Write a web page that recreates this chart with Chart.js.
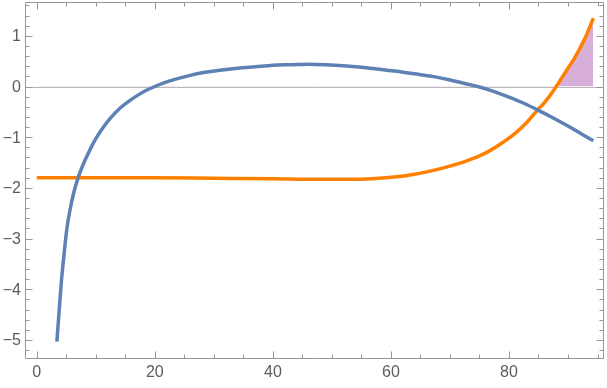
<!DOCTYPE html>
<html>
<head>
<meta charset="utf-8">
<script src="https://cdn.jsdelivr.net/npm/chart.js@4"></script>
<style>
  html, body { margin: 0; padding: 0; background: #fff; }
  #wrap { width: 607px; height: 388px; }
</style>
</head>
<body>
<div id="wrap"><canvas id="myPlot"></canvas></div>
<script>
// blue curve
var blueX = [3.4, 3.8, 4.2, 4.6, 5.1, 5.6, 6.2, 7, 8, 9, 10, 11.3, 12.5, 14, 15.5, 17, 18.5, 20, 22, 24, 26, 28, 31, 34, 37, 40, 43, 46, 49, 52, 55, 58, 61, 64, 67, 70, 72.5, 75, 77.5, 80, 82.5, 85, 87.5, 90, 92.5, 94.3];
var blueY = [-5.03, -4.4, -3.8, -3.33, -2.8, -2.45, -2.12, -1.8, -1.5, -1.25, -1.03, -0.8, -0.62, -0.44, -0.3, -0.18, -0.08, 0.0, 0.09, 0.16, 0.22, 0.27, 0.32, 0.36, 0.39, 0.42, 0.43, 0.44, 0.43, 0.41, 0.38, 0.34, 0.30, 0.25, 0.20, 0.13, 0.06, -0.01, -0.10, -0.21, -0.33, -0.47, -0.62, -0.78, -0.95, -1.07];

// orange curve
var orangeX = [0, 10, 20, 30, 40, 48, 54, 58, 61, 64, 67, 70, 72.5, 75, 77, 79, 81, 83, 85, 86, 87, 88, 89, 90, 91, 92, 93, 94.3];
var orangeY = [-1.80, -1.80, -1.80, -1.81, -1.82, -1.83, -1.83, -1.81, -1.78, -1.73, -1.66, -1.57, -1.48, -1.37, -1.25, -1.10, -0.93, -0.71, -0.44, -0.32, -0.17, 0.0, 0.18, 0.36, 0.54, 0.75, 0.98, 1.35];

var xTicks = [0, 20, 40, 60, 80];
var yTicks = [-5, -4, -3, -2, -1, 0, 1];

function pts(xs, ys) {
    return xs.map(function (x, i) { return {x: x, y: ys[i]}; });
}

function fmt(v) {
    return v < 0 ? '\u2212' + Math.abs(v) : String(v);
}

// frame, inward ticks, labels and zero axis like Mathematica
var framePlugin = {
    id: 'frame',
    beforeDatasetsDraw: function (chart) {
        var c = chart.ctx, a = chart.chartArea, ys = chart.scales.y;
        var y0 = Math.round(ys.getPixelForValue(0)) + 0.5;
        c.save();
        c.strokeStyle = '#b9b9b9';
        c.lineWidth = 1;
        c.beginPath();
        c.moveTo(a.left, y0);
        c.lineTo(a.right, y0);
        c.stroke();
        c.restore();
    },
    afterDatasetsDraw: function (chart) {
        var c = chart.ctx, a = chart.chartArea, xs = chart.scales.x, ys = chart.scales.y;
        var L = a.left + 0.5, R = a.right - 0.5, T = a.top + 0.5, B = a.bottom - 0.5;
        c.save();
        c.strokeStyle = '#959595';
        c.lineWidth = 1;
        c.beginPath();
        c.rect(L, T, R - L, B - T);
        c.stroke();
        c.beginPath();
        for (var v = 0; v <= 95; v += 5) {
            var px = Math.round(xs.getPixelForValue(v)) + 0.5;
            var len = (v % 20 === 0) ? 7 : 4;
            c.moveTo(px, B); c.lineTo(px, B - len);
            c.moveTo(px, T); c.lineTo(px, T + len);
        }
        for (var k = -26; k <= 8; k++) {
            var val = k * 0.2;
            var py = Math.round(ys.getPixelForValue(val)) + 0.5;
            var l2 = (k % 5 === 0) ? 7 : 4;
            c.moveTo(L, py); c.lineTo(L + l2, py);
            c.moveTo(R, py); c.lineTo(R - l2, py);
        }
        c.stroke();

        c.fillStyle = '#5c5c5c';
        c.font = '16px "Liberation Sans", Arial, sans-serif';
        c.textBaseline = 'middle';
        c.textAlign = 'center';
        xTicks.forEach(function (t) {
            c.fillText(fmt(t), xs.getPixelForValue(t), 373);
        });
        c.textAlign = 'right';
        yTicks.forEach(function (t) {
            c.fillText(fmt(t), 21, ys.getPixelForValue(t) + 1);
        });
        c.restore();
    }
};

var ctx = document.getElementById('myPlot');
var myChart = new Chart(ctx, {
    type: 'scatter',
    data: {
        datasets: [{
            label: 'orange',
            data: pts(orangeX, orangeY),
            showLine: true,
            borderColor: '#ff8000',
            borderWidth: 3.5,
            pointRadius: 0,
            cubicInterpolationMode: 'monotone',
            fill: {target: 'origin', above: '#d8afd8', below: 'rgba(0,0,0,0)'},
            order: 2
        }, {
            label: 'blue',
            data: pts(blueX, blueY),
            showLine: true,
            borderColor: '#5e81b5',
            borderWidth: 3.5,
            pointRadius: 0,
            cubicInterpolationMode: 'monotone',
            fill: false,
            order: 1
        }]
    },
    options: {
        responsive: true,
        maintainAspectRatio: false,
        animation: false,
        layout: {padding: {top: 2, right: 3, left: 0, bottom: 0}},
        plugins: {legend: {display: false}, tooltip: {enabled: false}},
        scales: {
            x: {
                type: 'linear',
                min: -2,
                max: 96.1,
                grid: {display: false},
                border: {display: false},
                ticks: {display: false},
                afterFit: function (s) { s.height = 29; s.paddingLeft = 0; s.paddingRight = 0; }
            },
            y: {
                type: 'linear',
                min: -5.375,
                max: 1.667,
                grid: {display: false},
                border: {display: false},
                ticks: {display: false},
                afterFit: function (s) { s.width = 25; s.paddingTop = 0; s.paddingBottom = 0; }
            }
        }
    },
    plugins: [framePlugin]
});
</script>
</body>
</html>
